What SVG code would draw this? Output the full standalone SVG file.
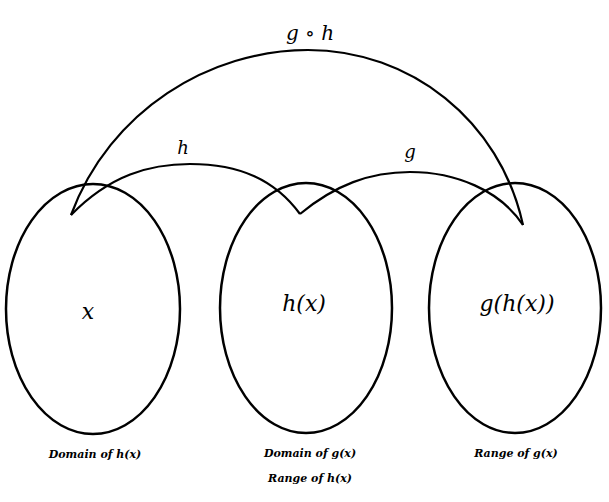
<svg xmlns="http://www.w3.org/2000/svg" width="609" height="502" viewBox="0 0 609 502">
<style>
.set{fill:none;stroke:#000;stroke-width:2.5}
.c{fill:none;stroke:#000;stroke-width:2.2}
.m{font-family:"DejaVu Serif","Liberation Serif",serif;font-style:italic;fill:#000}
.s{font-family:"DejaVu Serif","Liberation Serif",serif;font-style:italic;font-weight:bold;font-size:11px;text-anchor:middle;fill:#000}
</style>
<rect width="609" height="502" fill="#fff"/>
<g id="domain-h">
<ellipse class="set" cx="93" cy="309" rx="87" ry="125"/>
<text class="m" x="88" y="319" font-size="22" text-anchor="middle">x</text>
<text class="s" x="95" y="458">Domain of h(x)</text>
</g>
<g id="domain-g">
<ellipse class="set" cx="306" cy="308" rx="86" ry="125"/>
<text class="m" x="304" y="311" font-size="22" text-anchor="middle">h(x)</text>
<text class="s" x="310" y="457">Domain of g(x)</text>
<text class="s" x="310" y="482">Range of h(x)</text>
</g>
<g id="range-g">
<ellipse class="set" cx="515" cy="308" rx="86" ry="125"/>
<text class="m" x="517" y="311" font-size="22" text-anchor="middle">g(h(x))</text>
<text class="s" x="516" y="457">Range of g(x)</text>
</g>
<g id="connectors">
<path class="c" d="M71,215 C110,110 210,50 308,50 C410,50 500,120 523,225"/>
<path class="c" d="M71,215 C110,175 150,164 190,164 C240,164 275,180 300,214"/>
<path class="c" d="M300,214 C335,185 370,172 410,172 C455,172 500,190 523,225"/>
<text class="m" x="310" y="40" font-size="20" text-anchor="middle">g ∘ h</text>
<text class="m" x="183" y="154" font-size="18" text-anchor="middle">h</text>
<text class="m" x="410" y="158" font-size="18" text-anchor="middle">g</text>
</g>
</svg>
